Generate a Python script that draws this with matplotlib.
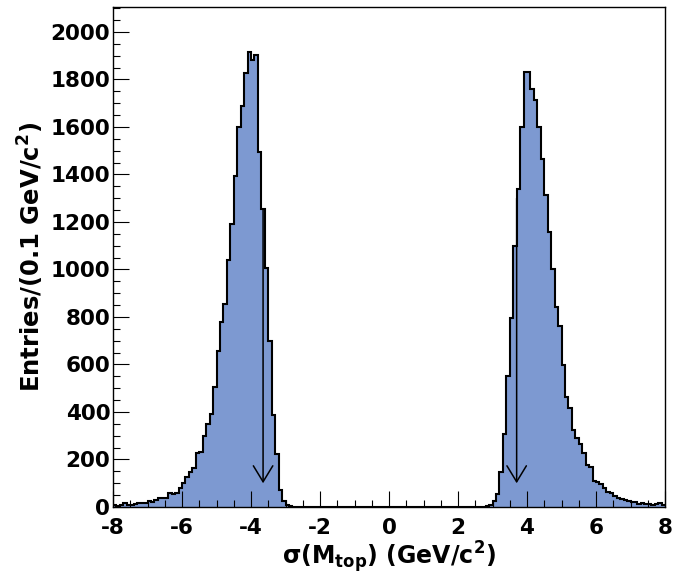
import numpy as np
import matplotlib
matplotlib.use('Agg')
import matplotlib.pyplot as plt
from matplotlib.ticker import MultipleLocator

plt.rcParams['font.family'] = ['DejaVu Sans']
plt.rcParams['font.weight'] = 'bold'
plt.rcParams['axes.unicode_minus'] = False
plt.rcParams['mathtext.fontset'] = 'custom'
plt.rcParams['mathtext.rm'] = 'DejaVu Sans'
plt.rcParams['mathtext.bf'] = 'DejaVu Sans:bold'

# histogram: 160 bins of 0.1 GeV/c^2 from -8 to 8
x_min, x_max, n_bins = -8.0, 8.0, 160

# bins from -8.0 up to -2.6 (left edges)
left_counts = [10, 6, 10, 15, 10, 10, 14, 15, 18, 15,
               25, 22, 29, 36, 39, 39, 58, 55, 60, 79,
               100, 125, 149, 163, 226, 230, 300, 348, 392, 507,
               658, 780, 853, 1040, 1191, 1394, 1601, 1688, 1826, 1917,
               1882, 1903, 1496, 1255, 1006, 700, 387, 223, 72, 27,
               7, 4, 2, 1, 1]
# bins from 2.7 up to 7.9 (left edges)
right_counts = [1, 3, 7, 27, 55, 146, 306, 552, 794, 1099,
                1339, 1601, 1830, 1830, 1758, 1714, 1601, 1467, 1314, 1157,
                1002, 841, 762, 598, 464, 415, 324, 292, 265, 226,
                177, 167, 111, 104, 96, 79, 65, 60, 46, 39,
                34, 29, 25, 22, 20, 13, 15, 11, 11, 10,
                11, 15, 10]
n_empty = n_bins - len(left_counts) - len(right_counts)
counts = np.array(left_counts + [0] * n_empty + right_counts, dtype=float)
edges = np.linspace(x_min, x_max, n_bins + 1)

# arrows marking the cut values
arrow_x = [-3.65, 3.7]
arrow_top = [1250, 1300]
arrow_tip = 100

xticks = np.arange(-8, 9, 2)
yticks = np.arange(0, 2001, 200)

fig = plt.figure(figsize=(6.75, 5.79), dpi=100)
ax = fig.add_axes([113 / 675, 72 / 579, 552 / 675, 500 / 579])

ax.stairs(counts, edges, fill=True, color='#7d99d1', lw=0)
ax.stairs(counts, edges, color='black', lw=1.5, baseline=None)

for xa, ya in zip(arrow_x, arrow_top):
    ax.annotate('', xy=(xa, arrow_tip), xytext=(xa, ya),
                arrowprops=dict(arrowstyle='->,head_length=1.15,head_width=0.7',
                                color='black', lw=1.1, shrinkA=0, shrinkB=0))

ax.set_xlim(x_min, x_max)
ax.set_ylim(0, 2105)
ax.set_xticks(xticks)
ax.set_yticks(yticks)
ax.xaxis.set_minor_locator(MultipleLocator(0.5))
ax.yaxis.set_minor_locator(MultipleLocator(50))
ax.tick_params(which='both', direction='in', top=False, right=False, width=0.8, labelsize=15.5)
ax.tick_params(which='major', length=11.3)
ax.tick_params(which='minor', length=5.3)
ax.tick_params(axis='y', pad=2)
ax.tick_params(axis='x', pad=8)
for sp in ax.spines.values():
    sp.set_linewidth(1.0)

ax.set_xlabel(r'$\mathrm{\sigma}$(M$_{\mathbf{top}}$) (GeV/c$^{\mathbf{2}}$)', fontsize=17, fontweight='bold', labelpad=1)
ax.set_ylabel(r'Entries/(0.1 GeV/c$^{\mathbf{2}}$)', fontsize=17.5, fontweight='bold', labelpad=3)

fig.savefig('out.png', dpi=100)
